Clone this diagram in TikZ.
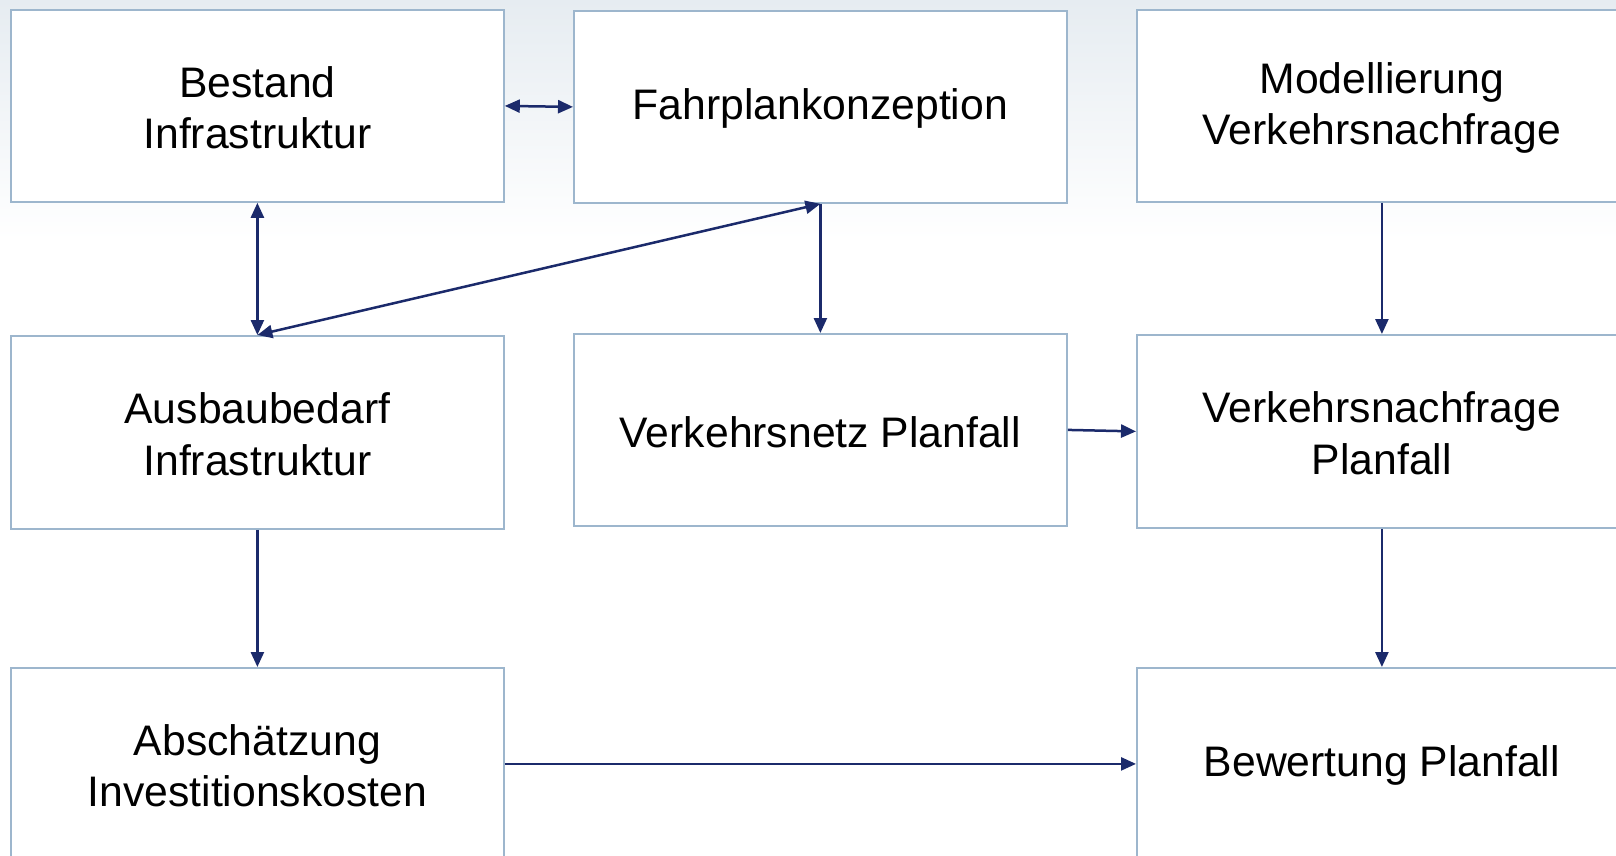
\documentclass[tikz,border=0pt]{standalone}
\usepackage{fontspec}
\setmainfont{Liberation Sans}
\usetikzlibrary{arrows.meta}
\definecolor{boxline}{HTML}{9DB6CD}
\definecolor{arrowc}{HTML}{1B2A6B}
\definecolor{bgtop}{HTML}{E6ECF1}
\begin{document}
\begin{tikzpicture}[x=1pt,y=-1pt,
  box/.style={draw=boxline, line width=1.8pt, fill=white, minimum width=493pt,
    minimum height=192pt, inner sep=0pt, anchor=north west},
  txt/.style={inner sep=0pt, align=center, yshift=-2pt,
    font=\fontsize{42.7}{51.5}\selectfont},
  tip/.tip={Triangle[length=15pt,width=13pt]},
  conn/.style={draw=arrowc, line width=2.5pt, -tip},
  conn2/.style={draw=arrowc, line width=2.5pt, tip-tip}]
\useasboundingbox (0,0) rectangle (1616,855);
\fill[white] (0,0) rectangle (1616,855);
\shade[top color=bgtop, bottom color=white] (0,0) rectangle (1616,240);

\node[box] (bestand) at (10,9) {};
\node[box] (fahr) at (573,10) {};
\node[box, minimum width=490pt] (model) at (1136,9) {};
\node[box, minimum height=193pt] (ausbau) at (10,335) {};
\node[box] (netz) at (573,333) {};
\node[box, minimum width=490pt, minimum height=193pt] (nachf) at (1136,334) {};
\node[box] (absch) at (10,667) {};
\node[box, minimum width=490pt] (bew) at (1136,667) {};

\node[txt] (bestand-t) at (bestand.center) {Bestand\\Infrastruktur};
\node[txt] (fahr-t) at (fahr.center) {Fahrplankonzeption};
\node[txt] (model-t) at (model.center) {Modellierung\\Verkehrsnachfrage};
\node[txt] (ausbau-t) at (ausbau.center) {Ausbaubedarf\\Infrastruktur};
\node[txt] (netz-t) at (netz.center) {Verkehrsnetz Planfall};
\node[txt] (nachf-t) at (nachf.center) {Verkehrsnachfrage\\Planfall};
\node[txt] (absch-t) at (absch.center) {Absch\"atzung\\Investitionskosten};
\node[txt] (bew-t) at (bew.center) {Bewertung Planfall};

\draw[conn2] (bestand.east) -- (fahr.west);
\draw[conn2] (bestand.south) -- (ausbau.north);
\draw[conn2] (fahr.south) -- (ausbau.north);
\draw[conn] (fahr.south) -- (netz.north);
\draw[conn] (netz.east) -- (nachf.west);
\draw[conn] (model.south) -- (nachf.north);
\draw[conn] (nachf.south) -- (bew.north);
\draw[conn] (ausbau.south) -- (absch.north);
\draw[conn] (absch.east) -- (bew.west);
\end{tikzpicture}
\end{document}
